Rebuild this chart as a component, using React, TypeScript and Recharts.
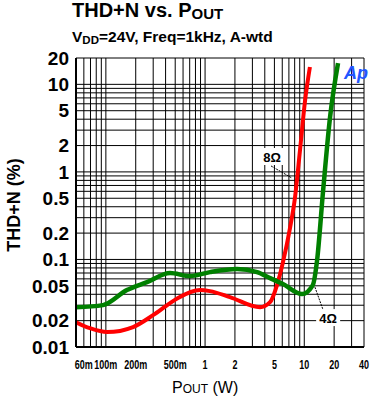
import { LineChart, Line, XAxis, YAxis, CartesianGrid, ReferenceLine, ReferenceDot } from "recharts"

// grid / tick values
const powerTicks = [
    0.05, 0.06, 0.07, 0.08, 0.09, 0.1, 0.2, 0.3, 0.4, 0.5, 0.6, 0.7, 0.8, 0.9,
    1, 2, 3, 4, 5, 6, 7, 8, 9, 10, 20, 30, 40,
]
const powerLabels: Record<string, string> = {
    "0.06": "60m",
    "0.1": "100m",
    "0.2": "200m",
    "0.5": "500m",
    "1": "1",
    "2": "2",
    "5": "5",
    "10": "10",
    "20": "20",
    "40": "40",
}
const thdTicks = [
    0.01, 0.02, 0.03, 0.04, 0.05, 0.06, 0.07, 0.08, 0.09, 0.1, 0.2, 0.3, 0.4, 0.5,
    0.6, 0.7, 0.8, 0.9, 1, 2, 3, 4, 5, 6, 7, 8, 9, 10, 20,
]
const thdLabels = ["0.01", "0.02", "0.05", "0.1", "0.2", "0.5", "1", "2", "5", "10", "20"]

// 8 ohm (red)
const power8 = [0.05, 0.069, 0.103, 0.188, 0.299, 0.444, 0.534, 0.889, 1.12, 1.78, 3.58, 4.52, 5.31, 6.1, 7.18, 8.07, 9.06, 10.2, 11.4]
const thd8 = [0.0192, 0.0164, 0.0148, 0.0169, 0.0231, 0.0317, 0.0362, 0.0447, 0.0435, 0.0372, 0.0285, 0.0325, 0.051, 0.0933, 0.228, 0.515, 1.78, 6.62, 15.8]

// 4 ohm (green)
const power4 = [0.05, 0.0935, 0.163, 0.26, 0.444, 0.705, 1.12, 2.1, 3.34, 4.52, 6.1, 9.49, 12.2, 13.4, 15.5, 18.2, 21.9]
const thd4 = [0.0285, 0.0301, 0.0447, 0.0551, 0.0698, 0.0645, 0.0716, 0.0776, 0.0716, 0.0612, 0.0523, 0.0402, 0.051, 0.0933, 0.62, 4.24, 17.5]

const data8 = power8.map((p, i) => ({ p, thd: thd8[i] }))
const data4 = power4.map((p, i) => ({ p, thd: thd4[i] }))

const font = "'Liberation Sans', Arial, sans-serif"

// condensed look of the original x labels
function PowerTick(props: any) {
    const { x, y, payload } = props
    const label = powerLabels[String(payload.value)]
    if (!label) return null
    return (
        <text
            transform={`translate(${x},${y + 10}) scale(0.72,1)`}
            textAnchor="middle"
            fontFamily={font}
            fontWeight="bold"
            fontSize={12.5}
            fill="#000"
        >
            {label}
        </text>
    )
}

function LoadLabel(props: any) {
    const { cx, cy, text } = props
    return (
        <g>
            <rect x={cx - 12} y={cy - 9} width={24} height={17} fill="#fff" />
            <text
                x={cx}
                y={cy + 5}
                textAnchor="middle"
                fontFamily={font}
                fontWeight="bold"
                fontSize={13}
                fill="#000"
            >
                {text}
            </text>
        </g>
    )
}

export default function App() {
    return (
        <div
            style={{
                position: "absolute",
                left: 0,
                top: 0,
                width: 373,
                height: 406,
                background: "#fff",
            }}
        >
            <LineChart
                width={373}
                height={406}
                margin={{ top: 58, right: 9, bottom: 29, left: 6 }}
            >
                <CartesianGrid stroke="#000" strokeWidth={1} />
                <XAxis
                    type="number"
                    dataKey="p"
                    scale="log"
                    domain={[0.05, 40]}
                    ticks={powerTicks}
                    interval={0}
                    allowDataOverflow
                    height={30}
                    tickSize={0}
                    tickMargin={12}
                    axisLine={{ stroke: "#000", strokeWidth: 2 }}
                    tickLine={false}
                    tick={<PowerTick />}
                />
                <YAxis
                    type="number"
                    dataKey="thd"
                    scale="log"
                    domain={[0.01, 20]}
                    ticks={thdTicks}
                    interval={0}
                    allowDataOverflow
                    width={70}
                    tickSize={0}
                    tickMargin={7}
                    axisLine={{ stroke: "#000", strokeWidth: 2 }}
                    tickLine={false}
                    tickFormatter={(v: number) =>
                        thdLabels.includes(String(v)) ? String(v) : ""
                    }
                    tick={{ fontSize: 19, fontWeight: "bold", fill: "#000", fontFamily: font }}
                />
                <Line
                    data={data8}
                    dataKey="thd"
                    type="monotone"
                    stroke="#ff0000"
                    strokeWidth={4}
                    dot={false}
                    isAnimationActive={false}
                />
                <Line
                    data={data4}
                    dataKey="thd"
                    type="monotone"
                    stroke="#008000"
                    strokeWidth={4.5}
                    dot={false}
                    isAnimationActive={false}
                />
                <ReferenceLine
                    segment={[
                        { x: 4.62, y: 1.17 },
                        { x: 7.52, y: 0.85 },
                    ]}
                    stroke="#000"
                    strokeWidth={1}
                    strokeDasharray="2 1"
                />
                <ReferenceLine
                    segment={[
                        { x: 12.8, y: 0.0483 },
                        { x: 15.5, y: 0.0264 },
                    ]}
                    stroke="#000"
                    strokeWidth={1}
                    strokeDasharray="2 1"
                />
                <ReferenceDot
                    x={4.73}
                    y={1.48}
                    r={0}
                    shape={(p: any) => <LoadLabel {...p} text="8Ω" />}
                />
                <ReferenceDot
                    x={17.4}
                    y={0.0214}
                    r={0}
                    shape={(p: any) => <LoadLabel {...p} text="4Ω" />}
                />
            </LineChart>
            <svg
                width={373}
                height={406}
                style={{ position: "absolute", left: 0, top: 0, pointerEvents: "none" }}
            >
                <text x={72} y={17} fontFamily={font} fontWeight="bold" fontSize={20} fill="#000">
                    THD+N vs. P
                    <tspan fontSize={15} dy={2}>OUT</tspan>
                </text>
                <text x={72} y={42} fontFamily={font} fontWeight="bold" fontSize={15.5} fill="#000">
                    V
                    <tspan fontSize={11.5} dy={2}>DD</tspan>
                    <tspan dy={-2}>=24V, Freq=1kHz, A-wtd</tspan>
                </text>
                <text
                    transform="translate(20,205) rotate(-90)"
                    textAnchor="middle"
                    fontFamily={font}
                    fontWeight="bold"
                    fontSize={18}
                    fill="#000"
                >
                    THD+N (%)
                </text>
                <text x={172} y={393} fontFamily={font} fontSize={16} fill="#000">
                    P
                    <tspan fontSize={12}>OUT</tspan>
                    <tspan fontSize={16}> (W)</tspan>
                </text>
                <text
                    x={344}
                    y={79}
                    fontFamily={font}
                    fontWeight="bold"
                    fontStyle="italic"
                    fontSize={18}
                    fill="#2255ff"
                >
                    Ap
                </text>
            </svg>
        </div>
    )
}
